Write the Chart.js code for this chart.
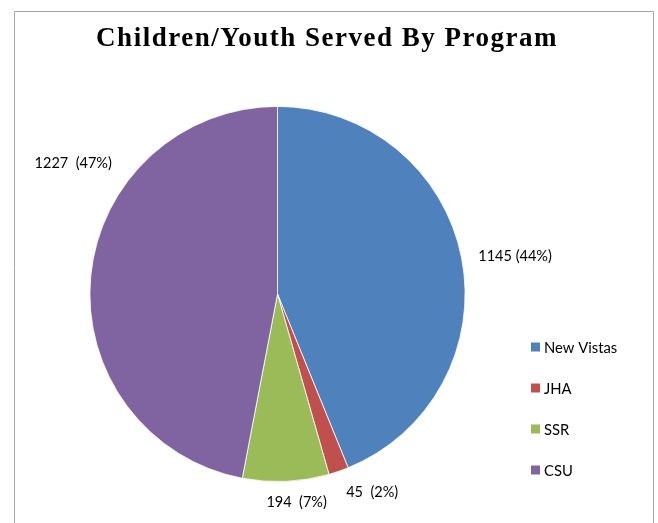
<!DOCTYPE html>
<html>
<head>
<meta charset="utf-8">
<script src="https://cdn.jsdelivr.net/npm/chart.js@4.4.0/dist/chart.umd.min.js"></script>
<style>
  html, body { margin: 0; padding: 0; background: #fff; }
  #wrap { width: 658px; height: 523px; position: relative; }
</style>
</head>
<body>
<div id="wrap"><canvas id="myChart" width="658" height="523"></canvas></div>
<script>
// chart data
const chartTitle = 'Children/Youth Served By Program';
const programs = ['New Vistas', 'JHA', 'SSR', 'CSU'];
const served = [1145, 45, 194, 1227];
const pctLabels = ['1145 (44%)', '45  (2%)', '194  (7%)', '1227  (47%)'];
const colors = ['#4F81BD', '#C0504D', '#9BBB59', '#8064A2'];

// small nudges for the data labels (CSU label was moved up by hand in the original)
const labelNudge = [[0, 2], [2, 5], [10, 4], [38, -111]];

const frameAndLabels = {
    id: 'frameAndLabels',
    beforeDraw(chart) {
        const c = chart.ctx;
        c.save();
        c.strokeStyle = '#a6a6a6';
        c.lineWidth = 1;
        c.beginPath();
        c.moveTo(14.5, 523);
        c.lineTo(14.5, 11.5);
        c.lineTo(653.5, 11.5);
        c.lineTo(653.5, 523);
        c.stroke();
        c.restore();
    },
    afterDraw(chart) {
        const c = chart.ctx;
        const meta = chart.getDatasetMeta(0);
        c.save();

        // title
        c.font = 'bold 27px "Liberation Serif", serif';
        c.fillStyle = '#000';
        c.textAlign = 'center';
        c.textBaseline = 'alphabetic';
        c.letterSpacing = '1.5px';
        c.fillText(chartTitle, 327, 46);
        c.letterSpacing = '0px';

        c.font = '14.5px Lato, "Open Sans", sans-serif';
        c.textBaseline = 'middle';
        meta.data.forEach((arc, i) => {
            const p = arc.getProps(['x', 'y', 'startAngle', 'endAngle', 'outerRadius'], true);
            const mid = (p.startAngle + p.endAngle) / 2;
            const r = p.outerRadius + 17;
            let x = p.x + Math.cos(mid) * r + labelNudge[i][0];
            let y = p.y + Math.sin(mid) * r + labelNudge[i][1];
            const dx = Math.cos(mid);
            if (dx > 0.2) c.textAlign = 'left';
            else if (dx < -0.2) c.textAlign = 'right';
            else c.textAlign = 'center';
            c.fillText(pctLabels[i], x, y);
        });

        // legend
        c.font = '14.8px Lato, "Open Sans", sans-serif';
        c.textAlign = 'left';
        const lx = 531, ly = 347, gap = 41;
        chart.data.labels.forEach((lab, i) => {
            const y = ly + i * gap;
            c.fillStyle = chart.data.datasets[0].backgroundColor[i];
            c.fillRect(lx, y - 4.5, 9, 9);
            c.fillStyle = '#000';
            c.fillText(lab, lx + 13, y + 1);
        });
        c.restore();
    }
};

const ctx = document.getElementById('myChart').getContext('2d');
const myChart = new Chart(ctx, {
    type: 'pie',
    data: {
        labels: programs,
        datasets: [{
            data: served,
            backgroundColor: colors,
            borderColor: '#ffffff',
            borderWidth: 0.8
        }]
    },
    options: {
        responsive: false,
        animation: false,
        layout: {
            padding: { left: 89, right: 192, top: 106, bottom: 41 }
        },
        plugins: {
            legend: { display: false },
            tooltip: { enabled: false },
            title: { display: false }
        }
    },
    plugins: [frameAndLabels]
});
</script>
</body>
</html>
